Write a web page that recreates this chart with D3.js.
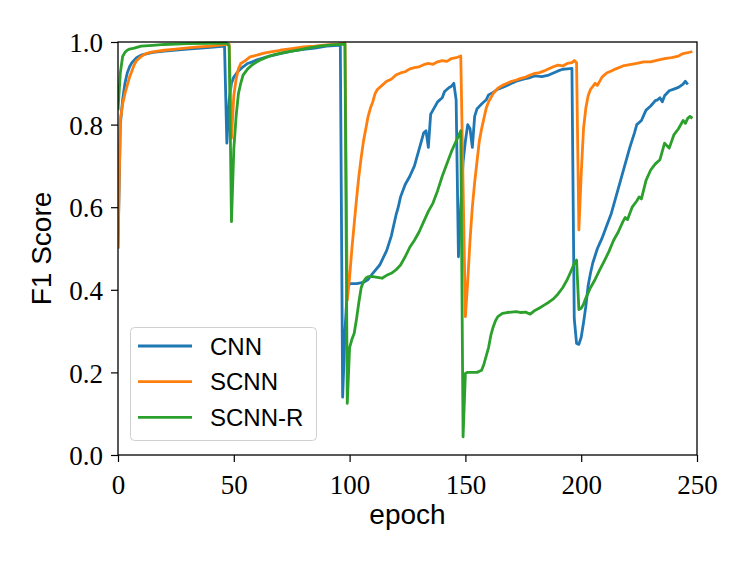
<!DOCTYPE html>
<html>
<head>
<meta charset="utf-8">
<script src="https://cdn.jsdelivr.net/npm/d3@7"></script>
<style>
  body { margin: 0; background: #fff; }
  svg { display: block; }
  .tick text { font-family: "Liberation Serif", serif; font-size: 27px; fill: #000; }
  .axis-label { font-family: "Liberation Sans", Arial, sans-serif; font-size: 28px; fill: #000; }
  .legend text { font-family: "Liberation Sans", Arial, sans-serif; font-size: 24px; fill: #000; }
</style>
</head>
<body>
<svg width="750" height="563"></svg>
<script>
// [epoch, F1] pairs
var cnnPoints = [[0,0.50],[1,0.80],[2,0.86],[3,0.90],[4,0.925],[5,0.94],[6,0.95],[8,0.962],[10,0.968],[15,0.975],[20,0.978],[30,0.983],[40,0.987],[46,0.99],[47,0.755],[48,0.86],[49,0.90],[50,0.915],[52,0.93],[54,0.94],[56,0.948],[58,0.952],[60,0.957],[65,0.965],[70,0.972],[75,0.978],[80,0.982],[85,0.985],[90,0.99],[95,0.992],[96,0.99],[97,0.14],[98,0.30],[99,0.40],[100,0.415],[103,0.415],[106,0.418],[108,0.425],[110,0.44],[113,0.46],[116,0.495],[118,0.53],[120,0.58],[121,0.60],[122,0.625],[124,0.655],[126,0.675],[128,0.70],[130,0.74],[131,0.76],[132,0.78],[133,0.785],[134,0.745],[135,0.825],[136,0.835],[138,0.855],[140,0.865],[141,0.88],[143,0.89],[144,0.893],[145,0.90],[146,0.86],[147,0.48],[148,0.60],[149,0.71],[150,0.76],[151,0.80],[152,0.79],[153,0.745],[154,0.82],[155,0.838],[157,0.85],[159,0.86],[160,0.872],[162,0.878],[164,0.886],[166,0.89],[168,0.895],[170,0.90],[172,0.905],[175,0.91],[178,0.914],[180,0.918],[183,0.916],[186,0.92],[188,0.925],[190,0.93],[192,0.934],[194,0.935],[196,0.936],[197,0.33],[198,0.27],[199,0.268],[200,0.285],[201,0.32],[202,0.36],[203,0.41],[204,0.44],[205,0.465],[207,0.50],[209,0.525],[211,0.555],[213,0.585],[215,0.625],[217,0.665],[219,0.705],[221,0.745],[223,0.78],[224,0.80],[226,0.81],[228,0.835],[230,0.845],[232,0.858],[233,0.86],[234,0.865],[235,0.855],[236,0.87],[238,0.882],[240,0.886],[242,0.89],[244,0.898],[245,0.905],[246,0.897]];

var scnnPoints = [[0,0.50],[1,0.81],[2,0.85],[3,0.875],[4,0.895],[5,0.915],[6,0.93],[7,0.945],[8,0.955],[10,0.965],[12,0.972],[15,0.976],[20,0.98],[25,0.983],[30,0.986],[35,0.988],[40,0.99],[45,0.993],[48,0.995],[49,0.767],[50,0.87],[51,0.91],[52,0.935],[53,0.948],[55,0.955],[57,0.964],[60,0.968],[63,0.973],[66,0.976],[70,0.98],[75,0.984],[80,0.988],[85,0.99],[90,0.993],[95,0.995],[98,0.997],[99,0.375],[100,0.43],[101,0.50],[102,0.56],[103,0.62],[104,0.675],[105,0.72],[106,0.76],[107,0.79],[108,0.82],[109,0.84],[110,0.855],[111,0.875],[112,0.885],[114,0.895],[116,0.905],[118,0.91],[120,0.92],[122,0.925],[124,0.928],[126,0.935],[128,0.938],[130,0.94],[132,0.945],[134,0.948],[136,0.946],[138,0.952],[140,0.955],[142,0.953],[144,0.96],[146,0.962],[148,0.966],[150,0.335],[151,0.42],[152,0.52],[153,0.60],[154,0.66],[155,0.71],[156,0.76],[157,0.79],[158,0.815],[159,0.84],[160,0.855],[162,0.875],[164,0.888],[166,0.895],[168,0.90],[170,0.905],[172,0.908],[174,0.912],[176,0.915],[178,0.92],[180,0.924],[182,0.926],[184,0.93],[186,0.935],[188,0.94],[190,0.944],[192,0.942],[194,0.948],[196,0.95],[197,0.955],[198,0.95],[199,0.545],[200,0.68],[201,0.79],[202,0.84],[203,0.87],[204,0.885],[206,0.90],[207,0.895],[209,0.915],[211,0.925],[213,0.93],[215,0.935],[218,0.942],[221,0.945],[224,0.948],[227,0.952],[230,0.952],[233,0.956],[236,0.96],[239,0.962],[242,0.966],[244,0.972],[246,0.974],[248,0.977]];

var scnnRPoints = [[0,0.835],[1,0.925],[2,0.965],[3,0.975],[4,0.98],[5,0.983],[7,0.985],[10,0.99],[15,0.992],[20,0.994],[30,0.996],[40,0.997],[47,0.997],[48,0.99],[49,0.565],[50,0.74],[51,0.82],[52,0.875],[53,0.90],[54,0.92],[56,0.935],[58,0.945],[60,0.952],[62,0.958],[65,0.965],[68,0.97],[72,0.975],[77,0.98],[82,0.985],[87,0.99],[92,0.993],[98,0.995],[99,0.125],[100,0.26],[101,0.28],[102,0.295],[103,0.33],[104,0.37],[105,0.405],[106,0.42],[107,0.428],[108,0.432],[110,0.432],[112,0.43],[114,0.428],[116,0.435],[118,0.44],[120,0.448],[122,0.46],[124,0.48],[126,0.503],[128,0.52],[130,0.54],[132,0.565],[134,0.59],[136,0.61],[138,0.64],[140,0.675],[142,0.705],[144,0.735],[146,0.76],[148,0.785],[149,0.044],[150,0.198],[151,0.20],[153,0.20],[155,0.20],[157,0.205],[158,0.22],[159,0.24],[160,0.26],[161,0.29],[162,0.31],[163,0.325],[164,0.335],[166,0.343],[168,0.345],[170,0.346],[172,0.347],[174,0.345],[176,0.346],[178,0.341],[180,0.35],[182,0.356],[184,0.363],[186,0.37],[188,0.378],[190,0.39],[192,0.405],[194,0.425],[196,0.45],[197,0.465],[198,0.472],[199,0.352],[200,0.355],[201,0.365],[202,0.38],[204,0.405],[206,0.425],[208,0.448],[210,0.47],[212,0.493],[214,0.52],[216,0.54],[218,0.565],[219,0.575],[220,0.57],[222,0.60],[224,0.615],[225,0.625],[226,0.62],[228,0.665],[230,0.69],[232,0.705],[234,0.715],[236,0.755],[238,0.743],[240,0.775],[242,0.79],[244,0.81],[245,0.803],[246,0.815],[247,0.82],[248,0.815]];

var seriesNames = ["CNN", "SCNN", "SCNN-R"];
var seriesColors = ["#1f77b4", "#ff7f0e", "#2ca02c"];
var xTicks = [0, 50, 100, 150, 200, 250];
var yTicks = [0.0, 0.2, 0.4, 0.6, 0.8, 1.0];

var svg = d3.select("svg");
var margin = {left: 118, top: 42, right: 53, bottom: 108};
var width = 750 - margin.left - margin.right;
var height = 563 - margin.top - margin.bottom;

var x = d3.scaleLinear().domain([0, 250]).range([0, width]);
var y = d3.scaleLinear().domain([0, 1]).range([height, 0]);

var g = svg.append("g").attr("transform", "translate(" + margin.left + "," + margin.top + ")");

g.append("clipPath").attr("id", "plot-clip")
    .append("rect").attr("x", 0).attr("y", -2).attr("width", width).attr("height", height + 4);

var line = d3.line()
    .x(function (d) { return x(d[0]); })
    .y(function (d) { return y(d[1]); });

var allSeries = [cnnPoints, scnnPoints, scnnRPoints];
g.append("g").attr("clip-path", "url(#plot-clip)")
    .selectAll("path")
    .data(allSeries)
    .enter().append("path")
    .attr("d", line)
    .attr("fill", "none")
    .attr("stroke", function (d, i) { return seriesColors[i]; })
    .attr("stroke-width", 2.8)
    .attr("stroke-linejoin", "round");

// axes
var xAxis = g.append("g")
    .attr("transform", "translate(0," + height + ")")
    .call(d3.axisBottom(x).tickValues(xTicks).tickSize(7).tickPadding(6).tickFormat(d3.format("d")));
var yAxis = g.append("g")
    .call(d3.axisLeft(y).tickValues(yTicks).tickSize(7).tickPadding(8).tickFormat(d3.format(".1f")));
[xAxis, yAxis].forEach(function (a) {
    a.select(".domain").remove();
    a.selectAll(".tick line").attr("stroke", "#000").attr("stroke-width", 1.2);
});
xAxis.selectAll(".tick text").attr("dy", "0.95em");
yAxis.selectAll(".tick text").attr("dy", "0.36em");

// frame
g.append("rect")
    .attr("width", width)
    .attr("height", height)
    .attr("fill", "none")
    .attr("stroke", "#000")
    .attr("stroke-width", 1.3);

svg.append("text").attr("class", "axis-label")
    .attr("x", margin.left + width / 2)
    .attr("y", 524)
    .attr("text-anchor", "middle")
    .text("epoch");
svg.append("text").attr("class", "axis-label")
    .attr("transform", "translate(51," + (margin.top + height / 2) + ") rotate(-90)")
    .attr("text-anchor", "middle")
    .text("F1 Score");

// legend
var legend = svg.append("g").attr("class", "legend");
legend.append("rect")
    .attr("x", 130.5).attr("y", 327.5)
    .attr("width", 186).attr("height", 113)
    .attr("rx", 4)
    .attr("fill", "#fff").attr("fill-opacity", 0.8)
    .attr("stroke", "#d0d0d0").attr("stroke-width", 1);
var items = legend.selectAll("g.item")
    .data(seriesNames)
    .enter().append("g")
    .attr("class", "item")
    .attr("transform", function (d, i) { return "translate(138," + (346 + i * 35.7) + ")"; });
items.append("line")
    .attr("x1", 0).attr("x2", 54)
    .attr("stroke", function (d, i) { return seriesColors[i]; })
    .attr("stroke-width", 2.8);
items.append("text")
    .attr("x", 72)
    .attr("dy", "0.36em")
    .text(function (d) { return d; });
</script>
</body>
</html>
